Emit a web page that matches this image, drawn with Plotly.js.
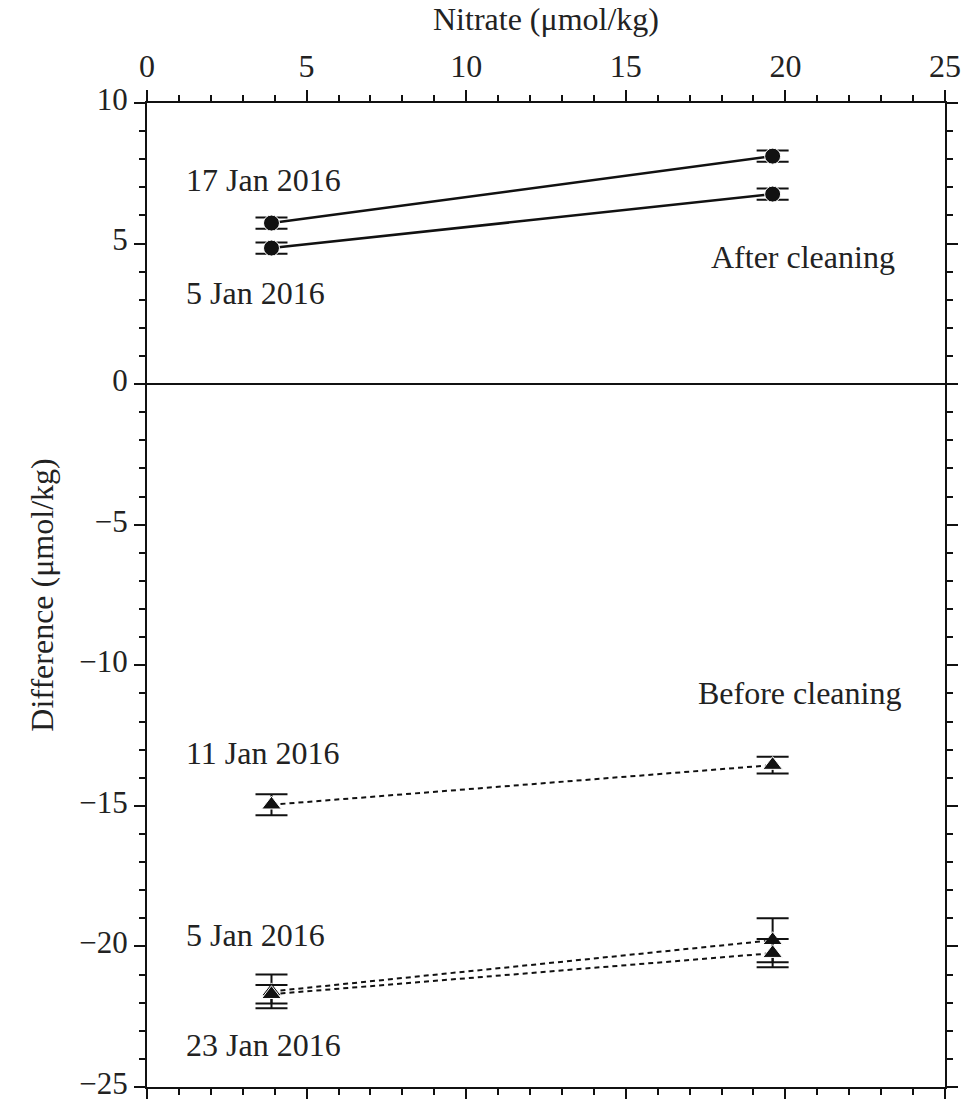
<!DOCTYPE html>
<html>
<head>
<meta charset="utf-8">
<script src="https://cdn.plot.ly/plotly-3.0.1.min.js"></script>
<style>
  html, body { margin: 0; padding: 0; background: #fff; }
  #chart { width: 975px; height: 1099px; }
</style>
</head>
<body>
<div id="chart"></div>
<script>
// Sensor nitrate vs. difference, before and after optical cleaning
const nitrate = [3.9, 19.6];

// After cleaning (circles, solid lines)
const jan17After = [5.73, 8.11];
const jan17AfterErr = [0.2, 0.2];
const jan5After = [4.84, 6.76];
const jan5AfterErr = [0.2, 0.2];

// Before cleaning (triangles, dashed lines)
const jan11Before = [-14.96, -13.55];
const jan11BeforeErr = [0.37, 0.3];
const jan5Before = [-21.6, -19.78];
const jan5BeforeErr = [0.6, 0.78];
const jan23Before = [-21.7, -20.24];
const jan23BeforeErr = [0.33, 0.5];

const yTicks = [-25, -20, -15, -10, -5, 0, 5, 10];
const xTicks = [0, 5, 10, 15, 20, 25];

const labels = [
  {text: '17 Jan 2016', x: 1.15, y: 7.26},
  {text: '5 Jan 2016', x: 1.15, y: 3.24},
  {text: 'After cleaning', x: 17.6, y: 4.52},
  {text: 'Before cleaning', x: 17.2, y: -11.0},
  {text: '11 Jan 2016', x: 1.15, y: -13.13},
  {text: '5 Jan 2016', x: 1.15, y: -19.6},
  {text: '23 Jan 2016', x: 1.15, y: -23.5}
];

const FONT = 'Liberation Serif, Times New Roman, serif';
const FS = 32;

function series(y, err, symbol, dash) {
  return {
    x: nitrate, y: y, type: 'scatter', mode: 'lines+markers',
    line: {color: '#111', width: dash ? 2 : 2.5, dash: dash ? '5px,4px' : 'solid'},
    marker: {symbol: symbol, size: symbol === 'circle' ? 16 : 17, color: '#111',
             line: {color: '#fff', width: 1}},
    error_y: {type: 'data', array: err, visible: true, color: '#111',
              thickness: 2, width: 16},
    showlegend: false, hoverinfo: 'skip'
  };
}

const data = [
  series(jan17After, jan17AfterErr, 'circle', false),
  series(jan5After, jan5AfterErr, 'circle', false),
  series(jan11Before, jan11BeforeErr, 'triangle-up', true),
  series(jan5Before, jan5BeforeErr, 'triangle-up', true),
  series(jan23Before, jan23BeforeErr, 'triangle-up', true)
];

const axisCommon = {
  showline: true, linecolor: '#111', linewidth: 2, mirror: 'allticks',
  ticks: 'outside', ticklen: 11, tickwidth: 2, tickcolor: '#111',
  showgrid: false, ticklabeloverflow: 'allow',
  tickfont: {family: FONT, size: FS, color: '#222'},
  minor: {dtick: 1, ticks: 'outside', ticklen: 6, tickwidth: 2, tickcolor: '#111'}
};

const layout = {
  width: 975, height: 1099,
  margin: {l: 147, r: 30, t: 103, b: 12},
  paper_bgcolor: '#fff', plot_bgcolor: '#fff',
  font: {family: FONT, color: '#222'},
  xaxis: Object.assign({}, axisCommon, {
    side: 'top', range: [0, 25], tickmode: 'array', tickvals: xTicks,
    ticktext: xTicks.map(String), zeroline: false,
    title: {text: 'Nitrate (μmol/kg)', font: {family: FONT, size: FS, color: '#222'}, standoff: 8}
  }),
  yaxis: Object.assign({}, axisCommon, {
    range: [-25, 10], tickmode: 'array', tickvals: yTicks,
    ticktext: yTicks.map(v => v < 0 ? '\u2212' + Math.abs(v) : String(v)),
    ticklabelshift: -4,
    tickfont: {family: FONT, size: 31, color: '#222'},
    zeroline: true, zerolinecolor: '#111', zerolinewidth: 2,
    title: {text: 'Difference (μmol/kg)', font: {family: FONT, size: FS, color: '#222'}, standoff: 16}
  }),
  annotations: labels.map(l => ({
    text: l.text, x: l.x, y: l.y, xref: 'x', yref: 'y',
    xanchor: 'left', yanchor: 'middle', showarrow: false,
    font: {family: FONT, size: FS, color: '#222'}
  }))
};

Plotly.newPlot('chart', data, layout, {displayModeBar: false, staticPlot: true});
</script>
</body>
</html>
